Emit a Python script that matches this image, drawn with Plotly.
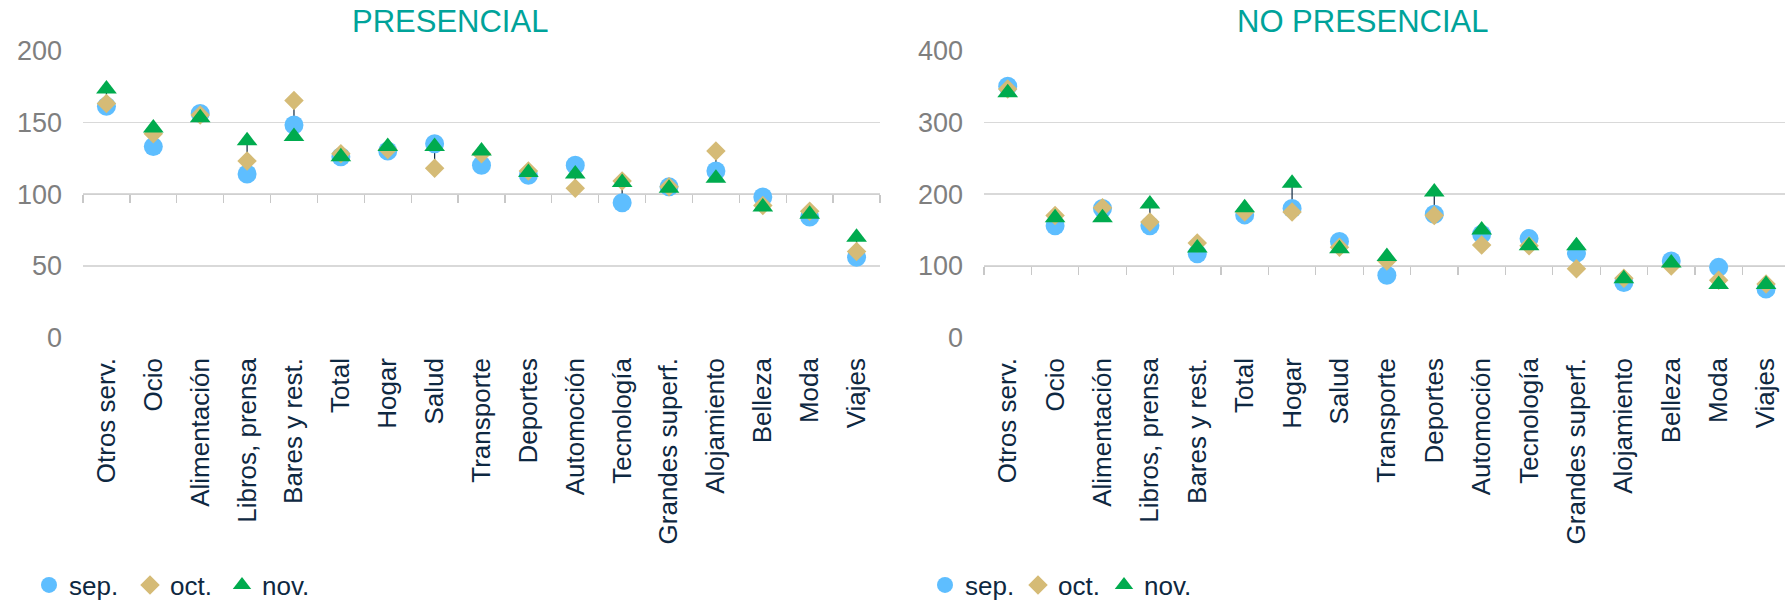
import plotly.graph_objects as go

categories = ["Otros serv.", "Ocio", "Alimentación", "Libros, prensa", "Bares y rest.", "Total",
              "Hogar", "Salud", "Transporte", "Deportes", "Automoción", "Tecnología",
              "Grandes superf.", "Alojamiento", "Belleza", "Moda", "Viajes"]
series_names = ["sep.", "oct.", "nov."]

pres_sep = [161, 133, 156, 114, 148, 126, 130, 135, 120, 113, 120, 94, 105, 116, 98, 84, 56]
pres_oct = [163, 142, 155, 123, 165, 128, 131, 118, 128, 116, 104, 109, 105, 130, 92, 88, 60]
pres_nov = [173, 146, 153, 137, 140, 126, 133, 133, 130, 115, 114, 108, 104, 111, 91, 86, 70]

nopres_sep = [350, 156, 180, 156, 117, 171, 180, 134, 87, 172, 144, 138, 118, 77, 107, 98, 68]
nopres_oct = [346, 170, 181, 161, 132, 175, 175, 126, 107, 170, 129, 128, 96, 83, 100, 80, 75]
nopres_nov = [341, 167, 167, 186, 125, 181, 215, 124, 113, 203, 150, 128, 128, 82, 104, 74, 74]

titles = ["PRESENCIAL", "NO PRESENCIAL"]
y_ranges = [[0, 200], [0, 400]]
y_dticks = [50, 100]
cross_values = [100, 100]

# ---- styling ----
W, H = 1785, 602
FONT = "Liberation Sans, Arial, sans-serif"
NAVY = "#0E2841"
GRAY_TXT = "#7F7F7F"
GRID = "#D9D9D9"
TEAL = "#00A39A"
colors = ["#5EBEFF", "#D5BB76", "#00AB4E"]
symbols = ["circle", "diamond", "triangle-up"]
sizes = [19, 15, 18]

top_px, bot_px = 50.3, 337.8
ydom = [1 - bot_px / H, 1 - top_px / H]
xdoms = [[83 / W, 880 / W], [984 / W, 1.0]]
xranges = [[-0.5, 16.5], [-0.5, 16.4]]

# legend marker centres (px) per panel
legend_px = [[50, 151, 243], [946, 1039, 1125]]
legend_y_px = 585

fig = go.Figure()

panels = [
    (pres_sep, pres_oct, pres_nov),
    (nopres_sep, nopres_oct, nopres_nov),
]

legend_names = []
for p, vals in enumerate(panels):
    xa = "x" if p == 0 else "x2"
    ya = "y" if p == 0 else "y2"
    xlab = "x3" if p == 0 else "x4"
    # high-low lines
    hx, hy = [], []
    for i, c in enumerate(categories):
        v = [s[i] for s in vals]
        hx += [c, c, None]
        hy += [min(v), max(v), None]
    fig.add_trace(go.Scatter(x=hx, y=hy, mode="lines", xaxis=xa, yaxis=ya,
                             line=dict(color=NAVY, width=1.2), showlegend=False,
                             hoverinfo="skip"))
    for k, s in enumerate(vals):
        idx = p * 3 + k + 1
        lname = "legend" if idx == 1 else f"legend{idx}"
        legend_names.append((lname, legend_px[p][k]))
        fig.add_trace(go.Scatter(
            x=categories, y=s, mode="markers", name=series_names[k],
            xaxis=xa, yaxis=ya,
            marker=dict(symbol=symbols[k], size=sizes[k], color=colors[k],
                        line=dict(width=0)),
            legend=lname,
        ))
    # invisible trace on label axis
    fig.add_trace(go.Scatter(x=categories, y=vals[0], mode="markers", xaxis=xlab, yaxis=ya,
                             marker=dict(opacity=0, size=1), showlegend=False,
                             hoverinfo="skip"))

layout = dict(
    width=W, height=H,
    margin=dict(l=0, r=0, t=0, b=0, pad=0, autoexpand=False),
    paper_bgcolor="white", plot_bgcolor="white",
    font=dict(family=FONT, color=NAVY, size=26),
    hovermode=False,
)

for p in range(2):
    sfx = "" if p == 0 else "2"
    lab = "3" if p == 0 else "4"
    pos = ydom[0] + (cross_values[p] - y_ranges[p][0]) / (y_ranges[p][1] - y_ranges[p][0]) * (ydom[1] - ydom[0])
    layout["xaxis" + sfx] = dict(
        domain=xdoms[p], anchor="free", position=pos, type="category",
        categoryorder="array", categoryarray=categories, range=xranges[p],
        showline=True, linecolor="#D0D0D0", linewidth=1.3,
        ticks="outside", tickson="boundaries", ticklen=8, tickcolor="#C8C8C8", tickwidth=1.3,
        showticklabels=False, showgrid=False, zeroline=False, layer="below traces",
    )
    layout["xaxis" + lab] = dict(
        domain=xdoms[p], overlaying="x" + sfx, anchor="y" + sfx, side="bottom",
        type="category", categoryorder="array", categoryarray=categories, range=xranges[p],
        showline=False, ticks="", showgrid=False, zeroline=False,
        tickangle=-90, tickfont=dict(family=FONT, size=26, color=NAVY),
        ticklabelstandoff=14,
    )
    layout["yaxis" + sfx] = dict(
        domain=ydom, anchor="x" + sfx, range=y_ranges[p], dtick=y_dticks[p], tick0=0,
        showgrid=True, gridcolor=GRID, gridwidth=1.3, zeroline=False, showline=False,
        ticks="", tickfont=dict(family=FONT, size=27, color=GRAY_TXT),
        ticklabelstandoff=20,
    )

for lname, cx in legend_names:
    layout[lname] = dict(orientation="h", x=(cx - 21) / W, y=1 - legend_y_px / H,
                         xanchor="left", yanchor="middle",
                         font=dict(family=FONT, size=26, color=NAVY),
                         bgcolor="rgba(0,0,0,0)", itemclick=False, itemdoubleclick=False)

title_x = [450, 1363]
layout["annotations"] = [
    dict(text=titles[p], xref="paper", yref="paper", x=title_x[p] / W, y=1 - 21.5 / H,
         xanchor="center", yanchor="middle", showarrow=False,
         font=dict(family=FONT, size=31, color=TEAL))
    for p in range(2)
]

fig.update_layout(**layout)
fig.write_html("out.html", config={"displayModeBar": False, "staticPlot": True},
               post_script="document.body.style.margin='0px';document.body.style.overflow='hidden';")
